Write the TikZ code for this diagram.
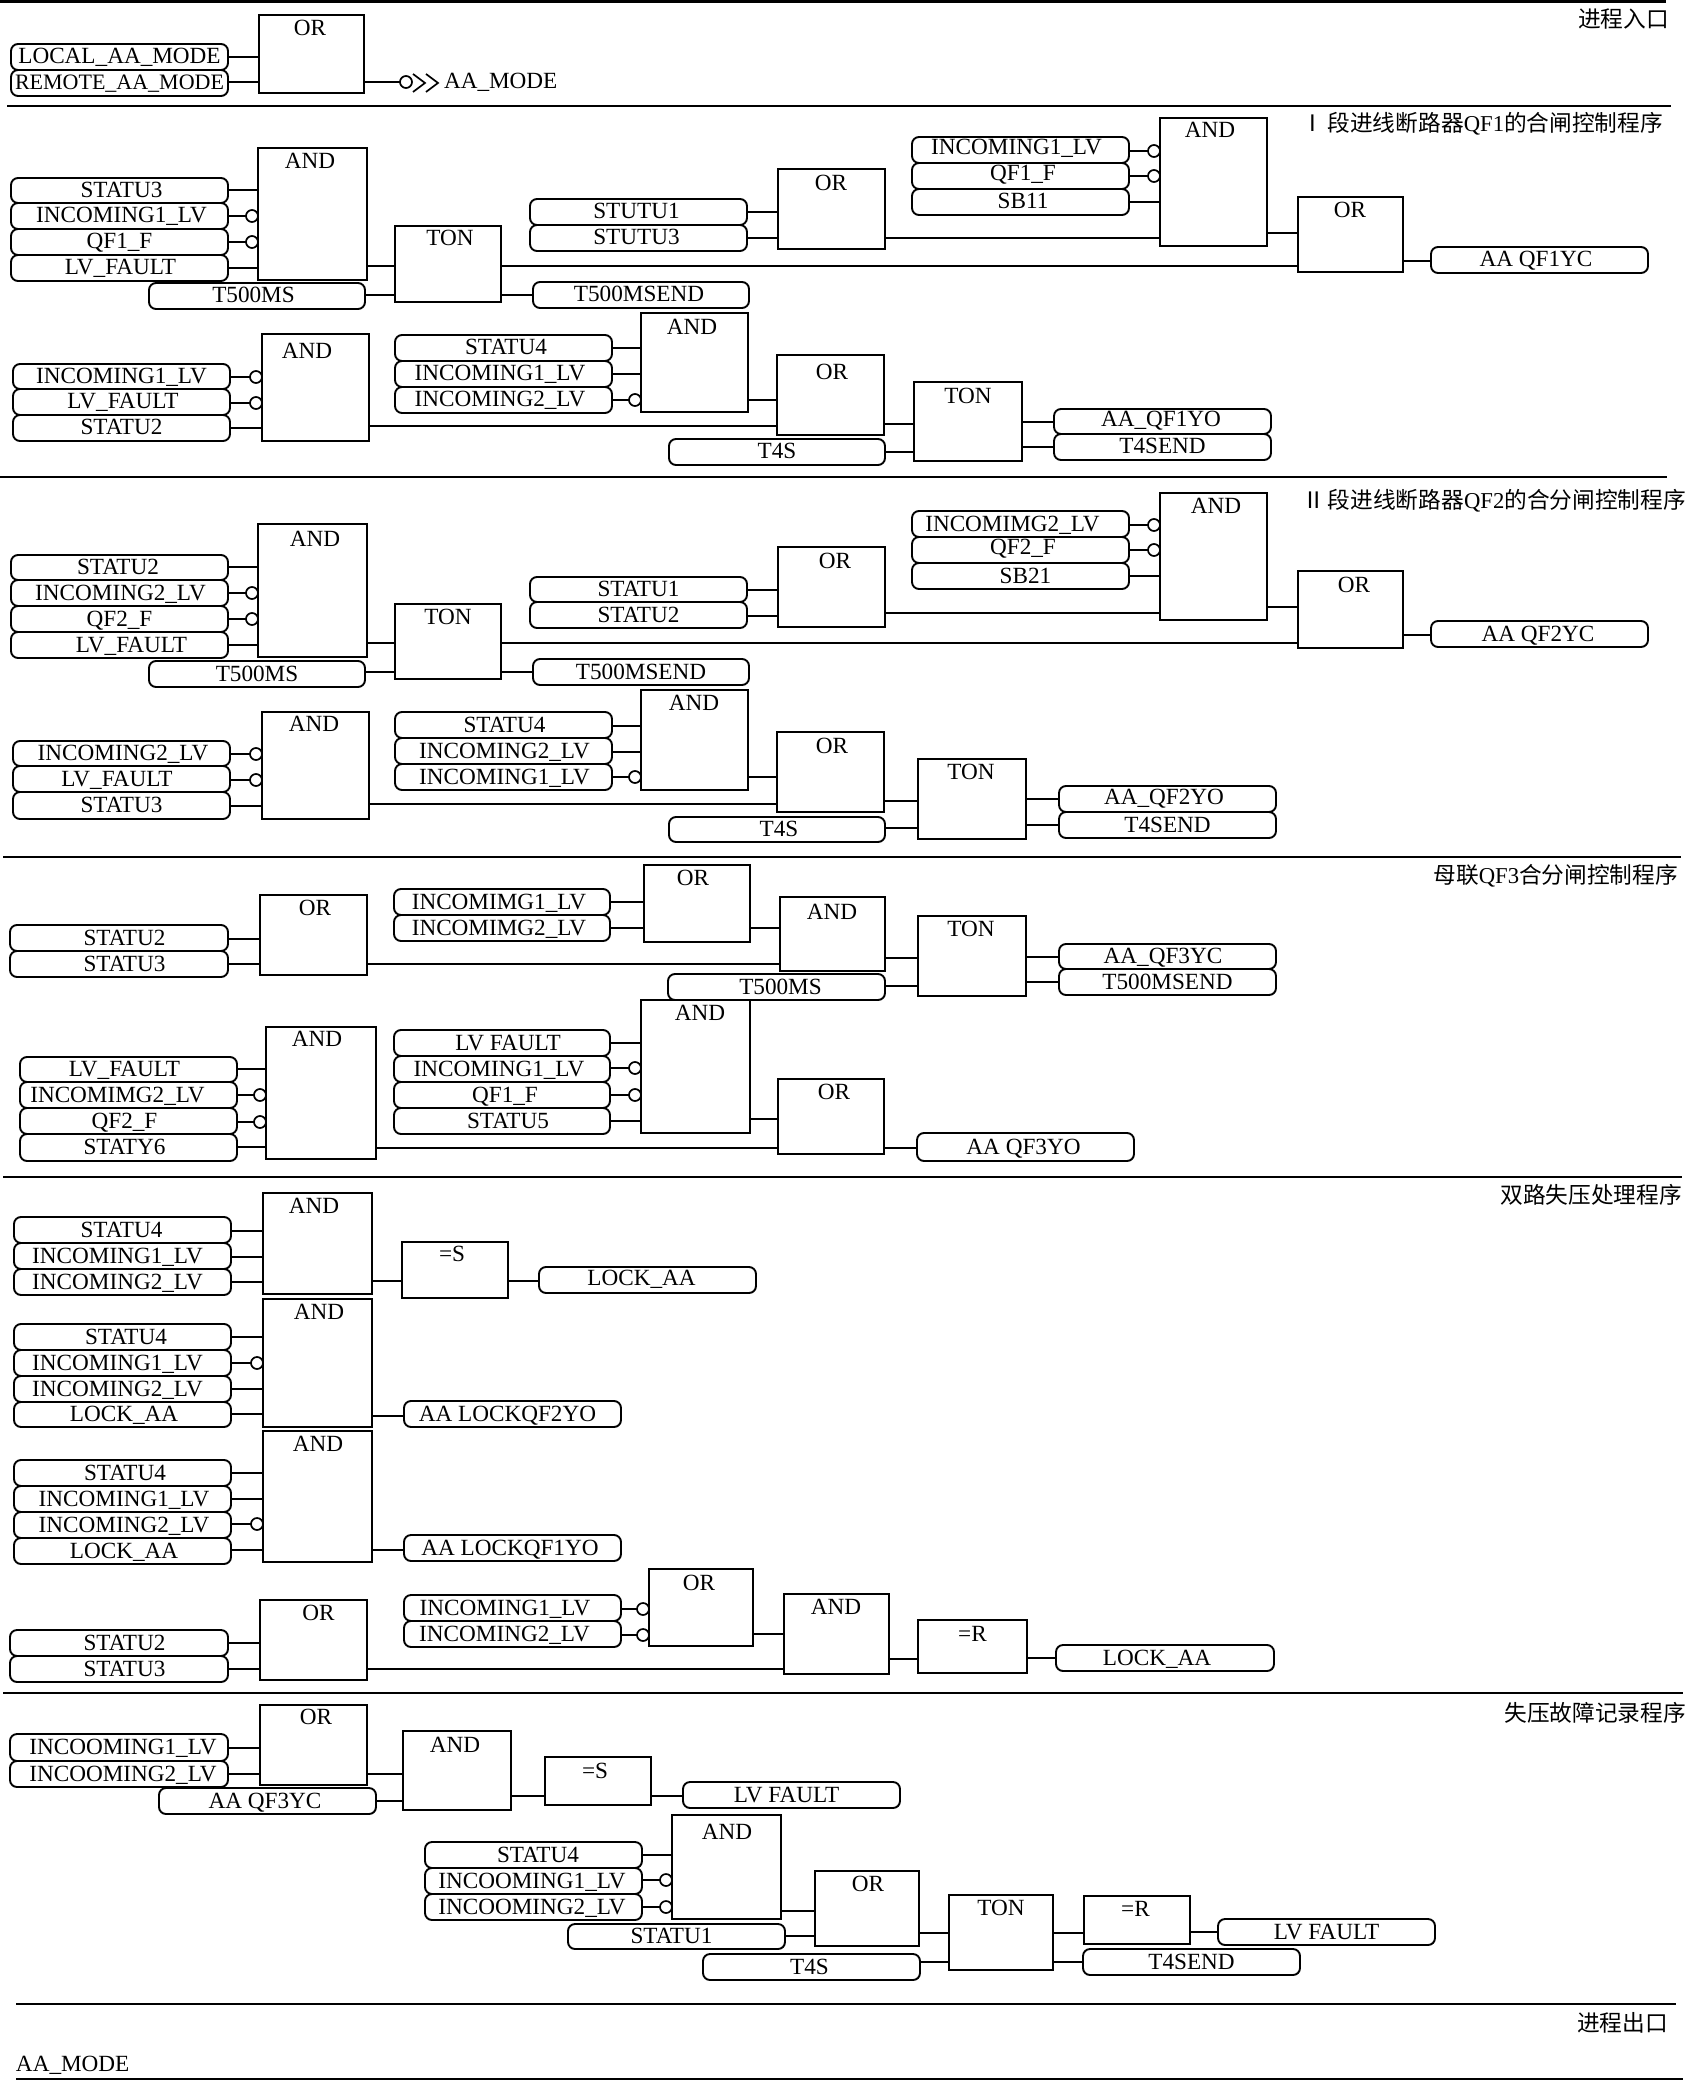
\documentclass[tikz,border=0pt]{standalone}
\usepackage{fontspec}
\setmainfont{Liberation Serif}
\newfontfamily\cjk{Noto Sans CJK SC}
\tikzset{
  wire/.style={line width=0.85pt,line cap=butt},
  rulex/.style={line width=0.9pt},
  blockbox/.style={draw,line width=0.95pt,inner sep=0pt,outer sep=0pt,rectangle},
  tagbox/.style={draw,line width=0.95pt,inner sep=0pt,outer sep=0pt,rectangle,rounded corners=3.5pt,
     text height=7pt,text depth=0pt,font=\fontsize{11.6}{12}\selectfont},
  blocktext/.style={inner sep=0pt,outer sep=0pt,font=\fontsize{11.6}{12}\selectfont},
  invc/.style={draw,circle,fill=white,line width=0.85pt,minimum size=6pt,inner sep=0pt,outer sep=0pt},
  head/.style={inner sep=0pt,outer sep=0pt,anchor=east,font=\fontsize{11.35}{12}\selectfont\cjk}
}
% name x1 y1 x2 y2 dx text
\newcommand\tg[7]{%
  \pgfmathsetmacro\rcx{(#2+#4)/2}\pgfmathsetmacro\rcy{(#3+#5)/2}%
  \pgfmathsetmacro\rw{(#4-#2)*0.5}\pgfmathsetmacro\rh{(#5-#3)*0.5}%
  \pgfmathsetmacro\rdx{(#6)*0.5*2}%
  \node[tagbox,minimum width=\rw pt,minimum height=\rh pt] (#1) at (\rcx,\rcy)
    {\makebox[0pt]{\hspace{\rdx pt}#7}};}
% name x1 y1 x2 y2 label tx ty
\newcommand\bk[8]{%
  \pgfmathsetmacro\rcx{(#2+#4)/2}\pgfmathsetmacro\rcy{(#3+#5)/2}%
  \pgfmathsetmacro\rw{(#4-#2)*0.5}\pgfmathsetmacro\rh{(#5-#3)*0.5}%
  \node[blockbox,minimum width=\rw pt,minimum height=\rh pt] (#1) at (\rcx,\rcy) {};
  \node[blocktext] (#1-t) at (#7,#8) {#6};}
\newcommand\cn[3]{\draw[wire] (#1.east |- 0,#3) -- (#2.west |- 0,#3);}
\newcommand\inv[3]{%
  \path (#2.west |- 0,#3) ++(-6,0) node[invc] (c-#1-#2) {};
  \draw[wire] (#1.east |- 0,#3) -- (c-#1-#2.west);}
\newcommand\up[1]{\raisebox{1pt}{#1}}
\begin{document}
\begin{tikzpicture}[x=0.5pt,y=-0.5pt]
\useasboundingbox (0,0) rectangle (1686,2080);
% rules
\draw[line width=1.6pt] (0,1) -- (1666,1);
\draw[rulex] (7,106) -- (1671,106);
\draw[rulex] (0,477) -- (1667,477);
\draw[rulex] (3,857) -- (1681,857);
\draw[rulex] (3,1177) -- (1682,1177);
\draw[rulex] (3,1693) -- (1683,1693);
\draw[rulex] (16,2004) -- (1676,2004);
\draw[rulex] (16,2079) -- (1683,2079);
% headings
\node[head] (h0) at (1669,19) {进程入口};
\node[head] (h1) at (1663,124) {Ⅰ\kern1.5pt 段进线断路器{\rmfamily QF1}的合闸控制程序};
\node[head] (h2) at (1686,501) {Ⅱ\kern1.5pt 段进线断路器{\rmfamily QF2}的合分闸控制程序};
\node[head] (h3) at (1678,876) {母联{\rmfamily QF3}合分闸控制程序};
\node[head] (h4) at (1682,1195) {双路失压处理程序};
\node[head] (h5) at (1686,1713) {失压故障记录程序};
\node[head] (h6) at (1668,2023) {进程出口};
\node[blocktext,anchor=west] (endmode) at (16,2065) {AA\_MODE};
% section 0
\bk{a0}{259}{15}{364}{93}{OR}{310}{28}
\tg{a1}{11}{44}{228}{70}{0}{LOCAL\_AA\_MODE}
\tg{a2}{11}{70}{228}{96}{0}{\fontsize{11}{12}\selectfont REMOTE\_AA\_MODE}
\cn{a1}{a0}{57}
\cn{a2}{a0}{82}
\node[invc] (amc) at (406,82) {};
\draw[wire] (a0.east |- 0,82) -- (amc.west);
\node[blocktext,anchor=west] (amt) at (444,82) {AA\_MODE};
\draw[wire] (413,74) -- (425,83) -- (413,92);
\draw[wire] (426,74) -- (438,83) -- (426,92);
% section 1 top
\bk{b0}{258}{148}{367}{280}{AND}{310}{161}
\tg{b1}{11}{178}{228}{203}{2}{STATU3}
\tg{b2}{11}{203}{228}{229}{2}{INCOMING1\_LV}
\tg{b3}{11}{229}{228}{255}{0}{QF1\_F}
\tg{b4}{11}{255}{228}{281}{1}{LV\_FAULT}
\cn{b1}{b0}{190}
\inv{b2}{b0}{216}
\inv{b3}{b0}{242}
\cn{b4}{b0}{268}
\tg{b5}{149}{283}{365}{309}{-3.5}{T500MS}
\bk{b6}{395}{226}{501}{302}{TON}{450}{238}
\cn{b0}{b6}{266}
\cn{b5}{b6}{295}
\tg{b7}{533}{282}{749}{308}{-2}{T500MSEND}
\cn{b6}{b7}{295}
\tg{b8}{530}{199}{747}{225}{-2}{STUTU1}
\tg{b9}{530}{225}{747}{251}{-2}{STUTU3}
\bk{b10}{778}{169}{885}{249}{OR}{831}{183}
\cn{b8}{b10}{212}
\cn{b9}{b10}{238}
\bk{b11}{1160}{118}{1267}{246}{AND}{1210}{130}
\cn{b10}{b11}{238}
\tg{b12}{912}{137}{1129}{163}{-4}{\up{INCOMING1\_LV}}
\tg{b13}{912}{163}{1129}{189}{2.5}{\up{QF1\_F}}
\tg{b14}{912}{189}{1129}{215}{2.5}{SB11}
\inv{b12}{b11}{151}
\inv{b13}{b11}{176}
\cn{b14}{b11}{202}
\bk{b15}{1298}{197}{1403}{272}{OR}{1350}{210}
\cn{b11}{b15}{233}
\cn{b6}{b15}{266}
\tg{b16}{1431}{247}{1648}{273}{-3.5}{AA QF1YC}
\cn{b15}{b16}{261}
% section 1 bottom
\bk{d0}{262}{334}{369}{441}{AND}{307}{351}
\tg{d1}{13}{364}{230}{389}{0}{INCOMING1\_LV}
\tg{d2}{13}{389}{230}{415}{1.5}{LV\_FAULT}
\tg{d3}{13}{415}{230}{441}{0}{STATU2}
\inv{d1}{d0}{377}
\inv{d2}{d0}{403}
\cn{d3}{d0}{428}
\tg{d4}{395}{335}{612}{361}{2.5}{STATU4}
\tg{d5}{395}{361}{612}{387}{-3.5}{INCOMING1\_LV}
\tg{d6}{395}{387}{612}{413}{-3.5}{INCOMING2\_LV}
\bk{d7}{641}{313}{748}{412}{AND}{692}{327}
\cn{d4}{d7}{348}
\cn{d5}{d7}{374}
\inv{d6}{d7}{400}
\bk{d8}{777}{355}{884}{435}{OR}{832}{372}
\cn{d7}{d8}{400}
\cn{d0}{d8}{426}
\tg{d9}{669}{439}{885}{465}{0}{T4S}
\bk{d10}{914}{382}{1022}{461}{TON}{968}{396}
\cn{d8}{d10}{424}
\cn{d9}{d10}{452}
\tg{d11}{1054}{409}{1271}{434}{-1.5}{\up{AA\_QF1YO}}
\tg{d12}{1054}{434}{1271}{460}{0}{T4SEND}
\cn{d10}{d11}{422}
\cn{d10}{d12}{447}
% section 2 top
\bk{e0}{258}{524}{367}{657}{AND}{315}{539}
\tg{e1}{11}{555}{228}{580}{-1.5}{STATU2}
\tg{e2}{11}{580}{228}{606}{1}{INCOMING2\_LV}
\tg{e3}{11}{606}{228}{632}{0}{QF2\_F}
\tg{e4}{11}{632}{228}{658}{12}{LV\_FAULT}
\cn{e1}{e0}{567}
\inv{e2}{e0}{593}
\inv{e3}{e0}{619}
\cn{e4}{e0}{645}
\tg{e5}{149}{661}{365}{687}{0}{T500MS}
\bk{e6}{395}{604}{501}{679}{TON}{448}{617}
\cn{e0}{e6}{643}
\cn{e5}{e6}{672}
\tg{e7}{533}{659}{749}{685}{0}{T500MSEND}
\cn{e6}{e7}{672}
\tg{e8}{530}{577}{747}{602}{0}{STATU1}
\tg{e9}{530}{602}{747}{628}{0}{STATU2}
\bk{e10}{778}{547}{885}{627}{OR}{835}{561}
\cn{e8}{e10}{590}
\cn{e9}{e10}{616}
\bk{e11}{1160}{493}{1267}{620}{AND}{1216}{506}
\cn{e10}{e11}{613}
\tg{e12}{912}{511}{1129}{537}{-8}{INCOMIMG2\_LV}
\tg{e13}{912}{537}{1129}{563}{2.5}{\up{QF2\_F}}
\tg{e14}{912}{563}{1129}{589}{5}{SB21}
\inv{e12}{e11}{525}
\inv{e13}{e11}{550}
\cn{e14}{e11}{576}
\bk{e15}{1298}{571}{1403}{648}{OR}{1354}{585}
\cn{e11}{e15}{607}
\cn{e6}{e15}{643}
\tg{e16}{1431}{621}{1648}{647}{-1.5}{AA QF2YC}
\cn{e15}{e16}{635}
% section 2 bottom
\bk{f0}{262}{712}{369}{819}{AND}{314}{724}
\tg{f1}{13}{741}{230}{766}{1.5}{INCOMING2\_LV}
\tg{f2}{13}{766}{230}{792}{-4.5}{LV\_FAULT}
\tg{f3}{13}{792}{230}{819}{0}{STATU3}
\inv{f1}{f0}{754}
\inv{f2}{f0}{780}
\cn{f3}{f0}{806}
\tg{f4}{395}{712}{612}{738}{1}{STATU4}
\tg{f5}{395}{738}{612}{764}{1}{INCOMING2\_LV}
\tg{f6}{395}{764}{612}{790}{1}{INCOMING1\_LV}
\bk{f7}{641}{690}{748}{790}{AND}{694}{703}
\cn{f4}{f7}{726}
\cn{f5}{f7}{752}
\inv{f6}{f7}{777}
\bk{f8}{777}{732}{884}{812}{OR}{832}{746}
\cn{f7}{f8}{777}
\cn{f0}{f8}{804}
\tg{f9}{669}{817}{885}{842}{2}{T4S}
\bk{f10}{918}{759}{1026}{839}{TON}{971}{772}
\cn{f8}{f10}{801}
\cn{f9}{f10}{828}
\tg{f11}{1059}{786}{1276}{812}{-3.5}{\up{AA\_QF2YO}}
\tg{f12}{1059}{812}{1276}{838}{0}{T4SEND}
\cn{f10}{f11}{799}
\cn{f10}{f12}{825}
% section 3 top
\tg{g1}{10}{925}{228}{951}{5.5}{STATU2}
\tg{g2}{10}{951}{228}{977}{5.5}{STATU3}
\bk{g0}{260}{895}{367}{975}{OR}{315}{908}
\cn{g1}{g0}{939}
\cn{g2}{g0}{964}
\tg{g3}{394}{889}{610}{915}{-3}{INCOMIMG1\_LV}
\tg{g4}{394}{915}{610}{941}{-3}{INCOMIMG2\_LV}
\bk{g5}{644}{865}{750}{942}{OR}{693}{878}
\cn{g3}{g5}{902}
\cn{g4}{g5}{928}
\bk{g6}{780}{897}{885}{971}{AND}{832}{912}
\cn{g5}{g6}{928}
\cn{g0}{g6}{964}
\tg{g7}{668}{974}{885}{1000}{4}{T500MS}
\bk{g8}{918}{916}{1026}{996}{TON}{971}{929}
\cn{g6}{g8}{958}
\cn{g7}{g8}{986}
\tg{g9}{1059}{944}{1276}{969}{-4.5}{AA\_QF3YC}
\tg{g10}{1059}{969}{1276}{995}{0}{T500MSEND}
\cn{g8}{g9}{957}
\cn{g8}{g10}{982}
% section 3 bottom
\bk{k0}{266}{1027}{376}{1159}{AND}{317}{1039}
\tg{k1}{20}{1057}{237}{1082}{-4}{LV\_FAULT}
\tg{k2}{20}{1082}{237}{1108}{-11}{INCOMIMG2\_LV}
\tg{k3}{20}{1108}{237}{1134}{-4}{QF2\_F}
\tg{k4}{20}{1134}{237}{1161}{-4}{STATY6}
\cn{k1}{k0}{1069}
\inv{k2}{k0}{1095}
\inv{k3}{k0}{1122}
\cn{k4}{k0}{1147}
\tg{k5}{394}{1030}{610}{1056}{6}{LV FAULT}
\tg{k6}{394}{1056}{610}{1082}{-3}{INCOMING1\_LV}
\tg{k7}{394}{1082}{610}{1108}{3}{QF1\_F}
\tg{k8}{394}{1108}{610}{1134}{6}{STATU5}
\bk{k9}{641}{1000}{750}{1133}{AND}{700}{1013}
\cn{k5}{k9}{1043}
\inv{k6}{k9}{1068}
\inv{k7}{k9}{1095}
\cn{k8}{k9}{1121}
\bk{k10}{778}{1079}{884}{1154}{OR}{834}{1092}
\cn{k9}{k10}{1119}
\cn{k0}{k10}{1148}
\tg{k11}{917}{1133}{1134}{1161}{-2}{AA QF3YO}
\cn{k10}{k11}{1148}
% section 4 first
\tg{m1}{14}{1217}{231}{1243}{-1}{STATU4}
\tg{m2}{14}{1243}{231}{1269}{-5}{INCOMING1\_LV}
\tg{m3}{14}{1269}{231}{1295}{-5}{INCOMING2\_LV}
\bk{m0}{263}{1193}{372}{1294}{AND}{314}{1206}
\cn{m1}{m0}{1231}
\cn{m2}{m0}{1257}
\cn{m3}{m0}{1282}
\bk{m4}{402}{1242}{508}{1298}{=S}{452}{1254}
\cn{m0}{m4}{1281}
\tg{m5}{539}{1267}{756}{1293}{-6}{\up{LOCK\_AA}}
\cn{m4}{m5}{1281}
% second
\tg{n1}{14}{1324}{231}{1350}{3.5}{STATU4}
\tg{n2}{14}{1350}{231}{1376}{-5}{INCOMING1\_LV}
\tg{n3}{14}{1376}{231}{1402}{-5}{INCOMING2\_LV}
\tg{n4}{14}{1402}{231}{1427}{1.5}{LOCK\_AA}
\bk{n0}{263}{1299}{372}{1427}{AND}{319}{1312}
\cn{n1}{n0}{1337}
\inv{n2}{n0}{1363}
\cn{n3}{n0}{1389}
\cn{n4}{n0}{1414}
\tg{n5}{404}{1401}{621}{1427}{-5}{AA LOCKQF2YO}
\cn{n0}{n5}{1416}
% third
\tg{p1}{14}{1460}{231}{1486}{2.5}{STATU4}
\tg{p2}{14}{1486}{231}{1512}{1.5}{INCOMING1\_LV}
\tg{p3}{14}{1512}{231}{1538}{1.5}{INCOMING2\_LV}
\tg{p4}{14}{1538}{231}{1564}{1.5}{LOCK\_AA}
\bk{p0}{263}{1431}{372}{1562}{AND}{318}{1444}
\cn{p1}{p0}{1473}
\cn{p2}{p0}{1499}
\inv{p3}{p0}{1524}
\cn{p4}{p0}{1550}
\tg{p5}{404}{1535}{621}{1561}{-2.5}{AA LOCKQF1YO}
\cn{p0}{p5}{1550}
% fourth
\tg{q1}{10}{1630}{228}{1656}{5.5}{STATU2}
\tg{q2}{10}{1656}{228}{1682}{5.5}{STATU3}
\bk{q0}{260}{1600}{367}{1680}{OR}{318.6}{1613}
\cn{q1}{q0}{1643}
\cn{q2}{q0}{1669}
\tg{q3}{404}{1595}{621}{1621}{-7.5}{INCOMING1\_LV}
\tg{q4}{404}{1621}{621}{1647}{-8}{INCOMING2\_LV}
\bk{q5}{649}{1569}{753}{1646}{OR}{699}{1583}
\inv{q3}{q5}{1609}
\inv{q4}{q5}{1635}
\bk{q6}{784}{1594}{889}{1674}{AND}{836}{1607}
\cn{q5}{q6}{1634}
\cn{q0}{q6}{1669}
\bk{q7}{918}{1620}{1027}{1673}{=R}{972.5}{1634}
\cn{q6}{q7}{1659}
\tg{q8}{1056}{1645}{1274}{1671}{-8}{LOCK\_AA}
\cn{q7}{q8}{1658}
% section 5 top
\tg{r1}{10}{1734}{228}{1761}{4}{INCOOMING1\_LV}
\tg{r2}{10}{1761}{228}{1787}{4}{INCOOMING2\_LV}
\bk{r0}{260}{1705}{367}{1785}{OR}{316}{1717}
\cn{r1}{r0}{1748}
\cn{r2}{r0}{1774}
\tg{r3}{159}{1788}{376}{1814}{-2.5}{AA QF3YC}
\bk{r4}{403}{1731}{511}{1810}{AND}{455}{1745}
\cn{r0}{r4}{1774}
\cn{r3}{r4}{1801}
\bk{r5}{545}{1757}{651}{1805}{=S}{595}{1771}
\cn{r4}{r5}{1796}
\tg{r6}{683}{1782}{900}{1808}{-5}{LV FAULT}
\cn{r5}{r6}{1796}
% section 5 bottom
\tg{s1}{425}{1842}{642}{1868}{4.5}{STATU4}
\tg{s2}{425}{1868}{642}{1894}{-1.5}{INCOOMING1\_LV}
\tg{s3}{425}{1894}{642}{1920}{-1.5}{INCOOMING2\_LV}
\bk{s0}{672}{1815}{781}{1919}{AND}{727}{1832}
\cn{s1}{s0}{1855}
\inv{s2}{s0}{1880}
\inv{s3}{s0}{1907}
\tg{s4}{568}{1924}{785}{1949}{-5}{STATU1}
\bk{s5}{815}{1871}{919}{1946}{OR}{868}{1884}
\cn{s0}{s5}{1911}
\cn{s4}{s5}{1936}
\tg{s6}{703}{1954}{920}{1980}{-2}{T4S}
\bk{s7}{949}{1895}{1053}{1970}{TON}{1001}{1908}
\cn{s5}{s7}{1933}
\cn{s6}{s7}{1962}
\bk{s8}{1084}{1896}{1190}{1944}{=R}{1135.5}{1909}
\cn{s7}{s8}{1933}
\tg{s9}{1083}{1949}{1300}{1975}{0}{T4SEND}
\cn{s7}{s9}{1962}
\tg{s10}{1218}{1919}{1435}{1945}{0}{LV FAULT}
\cn{s8}{s10}{1932}
\end{tikzpicture}
\end{document}
